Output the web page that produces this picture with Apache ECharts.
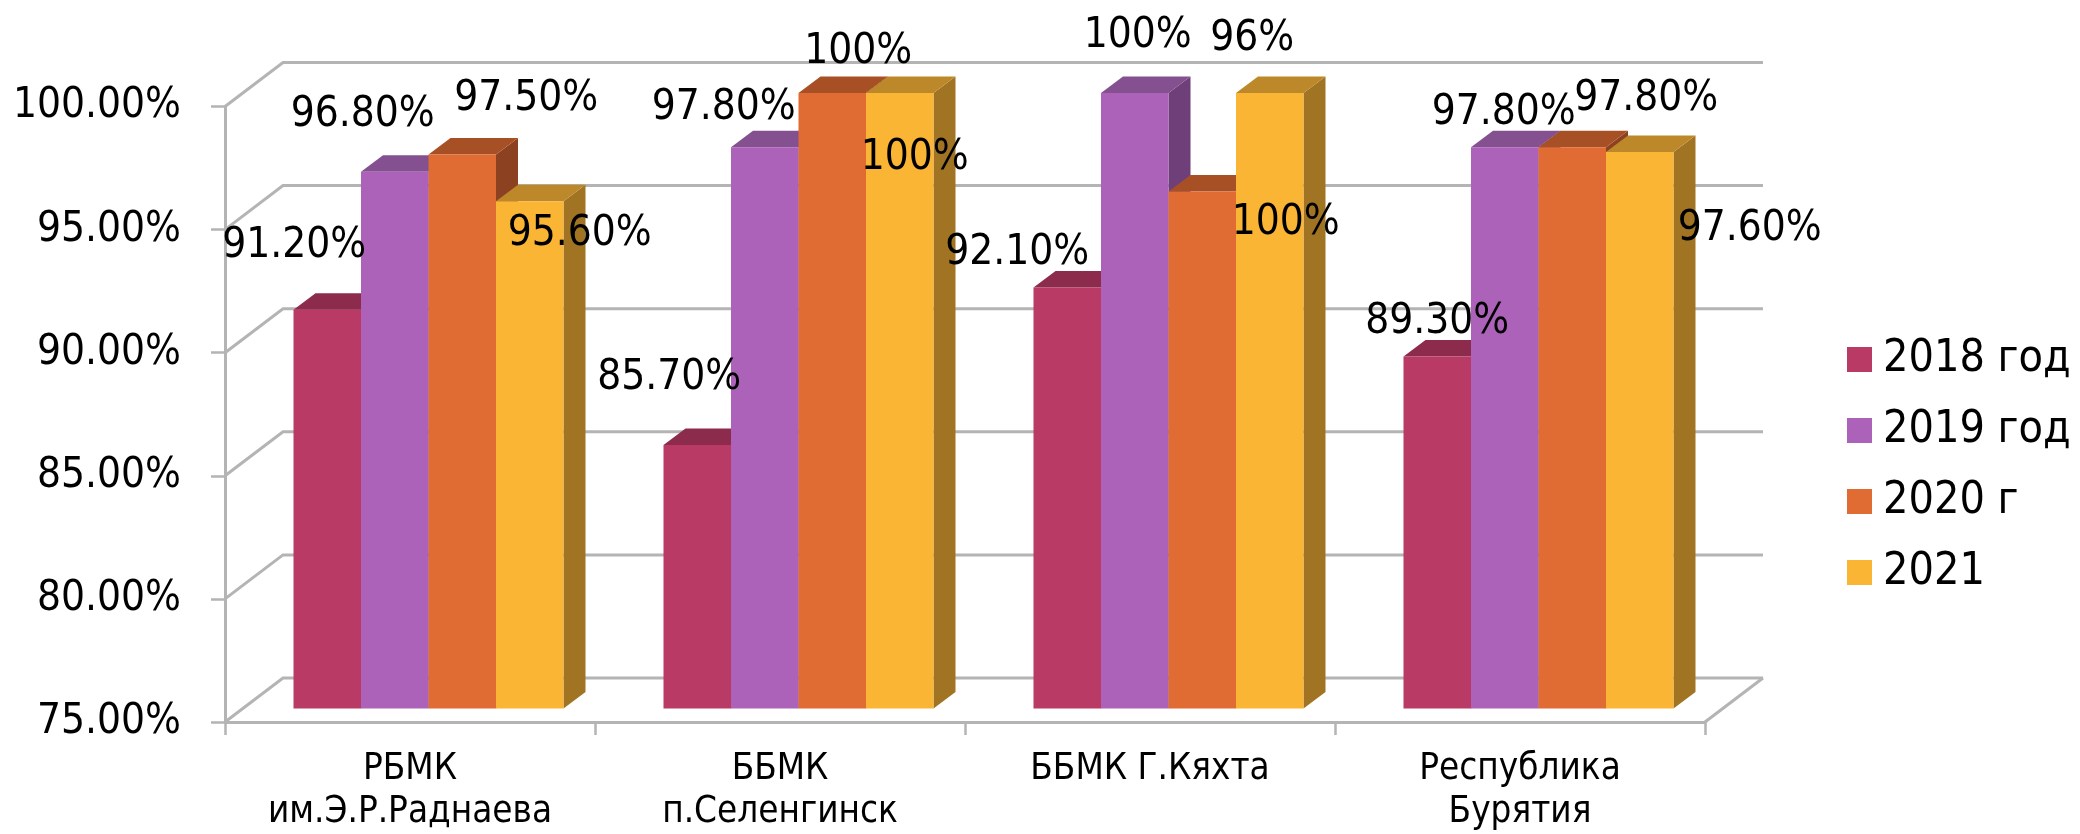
<!DOCTYPE html>
<html>
<head>
<meta charset="utf-8">
<style>html,body{margin:0;padding:0;background:#fff}#c{width:2080px;height:834px}</style>
<script src="https://cdn.jsdelivr.net/npm/echarts@6/dist/echarts.min.js"></script>
</head>
<body>
<div id="c"></div>
<script>
const categories = ['РБМК\nим.Э.Р.Раднаева', 'ББМК\nп.Селенгинск', 'ББМК Г.Кяхта', 'Республика\nБурятия'];
const yTicks = [75, 80, 85, 90, 95, 100];
const seriesNames = ['2018 год', '2019 год', '2020 г', '2021'];
const values2018 = [91.2, 85.7, 92.1, 89.3];
const values2019 = [96.8, 97.8, 100, 97.8];
const values2020 = [97.5, 100, 96, 97.8];
const values2021 = [95.6, 100, 100, 97.6];

// styling only
const FONT = '"DejaVu Sans Condensed","DejaVu Sans",sans-serif';
const faceColors = ['#B83A65', '#AC62B8', '#E06B33', '#FBB535'];
const topColors = ['#8C2B4C', '#84508F', '#A85025', '#BD882A'];
const sideColors = ['#8C2B4C', '#6E3F78', '#8C4220', '#A07423'];
const GRID = '#b4b4b4';
const WALL = { dx: 58, dy: 44 };
const PLANE = { dx: 18.5, dy: 13.5 };
const BAR = { w: 67.5, dx: 22, dy: 16.5 };
const LABEL_SHIFT_Y = 4;
// hand-placed label offsets from each bar's front-top centre: [dx, dy] per category
const labelOffsets = [
  [[-33, -68], [-28, -71], [-50, -38], [0, -38]],
  [[-32, -61], [-41, -43], [3, -61], [-1, -38]],
  [[64, -59], [26, -45], [50, -156], [74, -52]],
  [[50, 29], [15, 61], [16, 126], [110, 73]]
];
const allValues = [values2018, values2019, values2020, values2021];

function fmt(v) {
  return Number.isInteger(v) ? v + '%' : v.toFixed(2) + '%';
}
function barFrontLeft(api, cat, sIdx) {
  const p = api.coord([cat, 75]);
  return p[0] + PLANE.dx - BAR.w * 2 + sIdx * BAR.w;
}

function wallSeries() {
  return {
    type: 'custom', name: 'walls', silent: true, z: 1,
    data: yTicks.map(v => [0, v]),
    encode: { x: 0, y: 1 },
    renderItem(params, api) {
      const y = api.coord([0, api.value(1)])[1];
      const cs = params.coordSys;
      const x0 = cs.x, x1 = cs.x + cs.width;
      const children = [{
        type: 'polyline',
        shape: { points: [[x0, y], [x0 + WALL.dx, y - WALL.dy], [x1 + WALL.dx, y - WALL.dy]] },
        style: { stroke: GRID, lineWidth: 3, fill: null }
      }];
      if (api.value(1) === yTicks[0]) {
        children.push({
          type: 'line',
          shape: { x1: x1, y1: y, x2: x1 + WALL.dx, y2: y - WALL.dy },
          style: { stroke: GRID, lineWidth: 3 }
        });
      }
      return { type: 'group', children };
    }
  };
}

function barSeries(sIdx) {
  return {
    type: 'custom', name: seriesNames[sIdx], silent: true, z: 2 + sIdx,
    itemStyle: { color: faceColors[sIdx] },
    data: allValues[sIdx].map((v, i) => [i, v]),
    encode: { x: 0, y: 1 },
    renderItem(params, api) {
      const cat = api.value(0);
      const top = api.coord([cat, api.value(1)])[1] - PLANE.dy;
      const bottom = api.coord([cat, 75])[1] - PLANE.dy;
      const l = barFrontLeft(api, cat, sIdx), r = l + BAR.w;
      const d = BAR;
      return {
        type: 'group',
        children: [
          { type: 'polygon', shape: { points: [[r, top], [r + d.dx, top - d.dy], [r + d.dx, bottom - d.dy], [r, bottom]] }, style: { fill: sideColors[sIdx] } },
          { type: 'polygon', shape: { points: [[l, top], [l + d.dx, top - d.dy], [r + d.dx, top - d.dy], [r, top]] }, style: { fill: topColors[sIdx] } },
          { type: 'rect', shape: { x: l, y: top, width: BAR.w, height: bottom - top }, style: { fill: faceColors[sIdx] } }
        ]
      };
    }
  };
}

function labelSeries() {
  const data = [];
  allValues.forEach((vals, s) => vals.forEach((v, c) => data.push([c, v, s])));
  return {
    type: 'custom', name: 'labels', silent: true, z: 20,
    data, encode: { x: 0, y: 1 },
    renderItem(params, api) {
      const cat = api.value(0), v = api.value(1), s = api.value(2);
      const top = api.coord([cat, v])[1] - PLANE.dy;
      const cx = barFrontLeft(api, cat, s) + BAR.w / 2;
      const off = labelOffsets[s][cat];
      return {
        type: 'text',
        style: {
          text: fmt(v), x: cx + off[0], y: top + off[1] + LABEL_SHIFT_Y,
          fill: '#000', font: '42px ' + FONT, align: 'center', verticalAlign: 'middle'
        }
      };
    }
  };
}

const chart = echarts.init(document.getElementById('c'), null, { renderer: 'canvas' });
chart.setOption({
  animation: false,
  backgroundColor: '#fff',
  grid: { left: 225, right: 375, top: 106.5, bottom: 110.5 },
  legend: {
    orient: 'vertical', left: 1847, top: 334.5,
    data: seriesNames, icon: 'rect',
    itemWidth: 25, itemHeight: 25, itemGap: 21,
    textStyle: { fontFamily: FONT, fontSize: 44.5, color: '#000', lineHeight: 46, padding: [4, 0, 0, 6] },
    padding: 0, selectedMode: false
  },
  xAxis: {
    type: 'category', data: categories,
    axisLine: { lineStyle: { color: GRID, width: 3 } },
    axisTick: { show: true, length: 13, alignWithLabel: false, lineStyle: { color: GRID, width: 2.5 } },
    axisLabel: { fontFamily: FONT, fontSize: 36.5, color: '#000', lineHeight: 43, margin: 26, interval: 0 }
  },
  yAxis: {
    type: 'value', min: 75, max: 100, interval: 5,
    splitLine: { show: false },
    axisLine: { show: true, lineStyle: { color: GRID, width: 3 } },
    axisTick: { show: true, length: 14, lineStyle: { color: GRID, width: 2.5 } },
    axisLabel: { fontFamily: FONT, fontSize: 42, color: '#000', margin: 44, padding: [6, 0, 0, 0], formatter: v => v.toFixed(2) + '%' }
  },
  series: [wallSeries(), barSeries(0), barSeries(1), barSeries(2), barSeries(3), labelSeries()]
});
</script>
</body>
</html>
